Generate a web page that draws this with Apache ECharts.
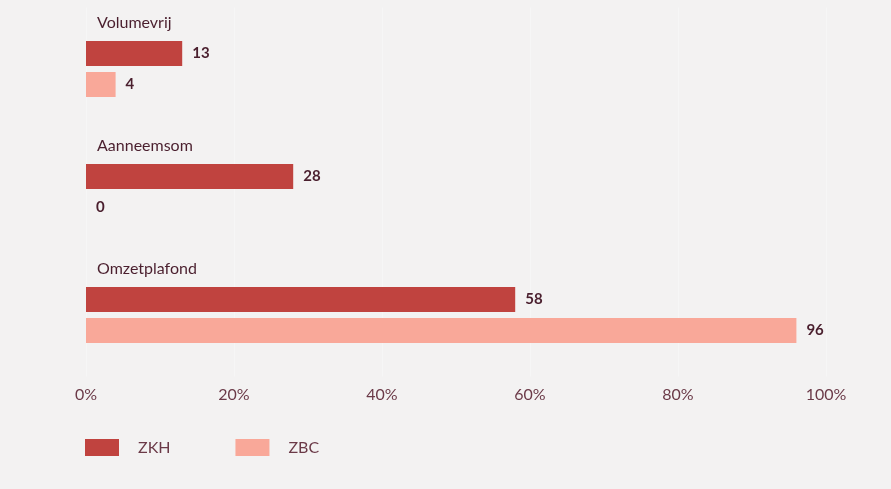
<!DOCTYPE html>
<html><head><meta charset="utf-8">
<script src="https://cdn.jsdelivr.net/npm/echarts@6/dist/echarts.min.js"></script>
<style>html,body{margin:0;padding:0;background:#f3f2f2;}#c{width:891px;height:489px;}</style>
</head><body><div id="c"></div>
<script>
const categories = ['Volumevrij', 'Aanneemsom', 'Omzetplafond'];
const seriesNames = ['ZKH', 'ZBC'];
const zkhValues = [13, 28, 58];
const zbcValues = [4, 0, 96];
const xTicks = [0, 20, 40, 60, 80, 100];

const textColor = '#4a1f2e';
const chart = echarts.init(document.getElementById('c'));
const labelCfg = {show: true, position: 'right', distance: 10, color: textColor, fontWeight: 'bold', fontSize: 15, fontFamily: 'Lato'};
chart.setOption({
  backgroundColor: '#f3f2f2',
  animation: false,
  grid: {left: 86, right: 65, top: 7.5, bottom: 112.5, containLabel: false},
  xAxis: {
    type: 'value', min: xTicks[0], max: xTicks[xTicks.length-1], interval: 20,
    axisLine: {show: false}, axisTick: {show: false},
    splitLine: {show: true, lineStyle: {color: 'rgba(255,255,255,0.3)', width: 1}},
    axisLabel: {formatter: v => v + '%', color: '#6b3a48', fontSize: 16, fontFamily: 'Lato', margin: 10}
  },
  yAxis: {
    type: 'category', data: categories, inverse: true,
    axisLine: {show: false}, axisTick: {show: false},
    axisLabel: {inside: true, margin: 11, align: 'left', verticalAlign: 'bottom', padding: [0,0,38,0],
      color: textColor, fontSize: 16, fontFamily: 'Lato'}
  },
  legend: {
    left: 80, top: 434, itemWidth: 34, itemHeight: 17, itemGap: 65, icon: 'rect',
    textStyle: {color: '#6b3a48', fontSize: 16, fontFamily: 'Lato', padding: [0,0,0,14]},
    data: seriesNames
  },
  series: [
    {name: seriesNames[0], type: 'bar', data: zkhValues, barWidth: 25, barGap: '24%', itemStyle: {color: '#c0433f'}, label: labelCfg},
    {name: seriesNames[1], type: 'bar', data: zbcValues, barWidth: 25, barGap: '24%', itemStyle: {color: '#f9a899'}, label: labelCfg}
  ]
});
</script></body></html>
